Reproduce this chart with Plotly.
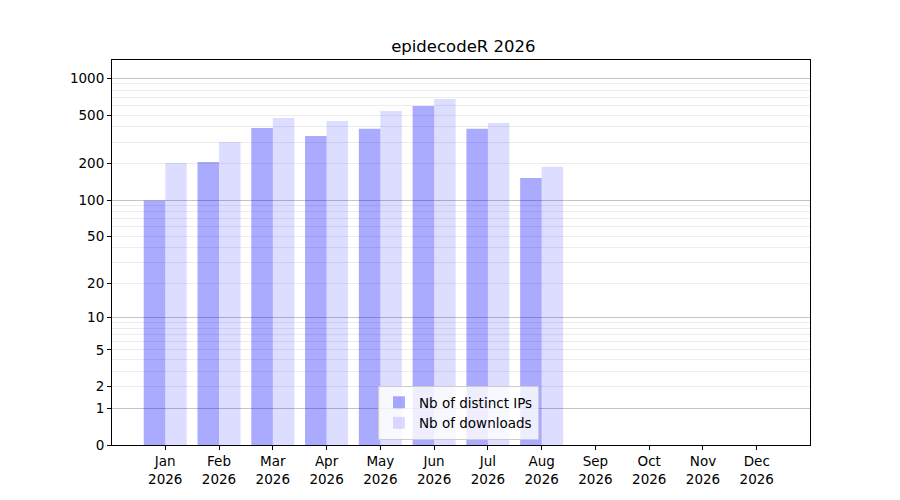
import numpy as np
import plotly.graph_objects as go

months = ["Jan", "Feb", "Mar", "Apr", "May", "Jun", "Jul", "Aug", "Sep", "Oct", "Nov", "Dec"]
year = "2026"
distinct_ips = [99, 206, 392, 337, 385, 594, 385, 152, 0, 0, 0, 0]
downloads = [202, 301, 473, 447, 540, 678, 431, 188, 0, 0, 0, 0]
y_labels = [0, 1, 2, 5, 10, 20, 50, 100, 200, 500, 1000]
decades = [1, 10, 100, 1000]
minor_vals = [m * d for d in (1, 10, 100) for m in range(2, 10)]


def tr(v):
    # log10(1 + x) scale, like the original symlog-ish axis
    return np.log10(1 + np.asarray(v, dtype=float))


x = np.arange(len(months))
font = dict(family="DejaVu Sans", size=13.5, color="black")

fig = go.Figure()
fig.add_trace(go.Bar(x=x, y=tr(distinct_ips), name="Nb of distinct IPs",
                     marker=dict(color="rgba(0,0,255,0.333)", line_width=0)))
fig.add_trace(go.Bar(x=x, y=tr(downloads), name="Nb of downloads",
                     marker=dict(color="rgba(0,0,255,0.133)", line_width=0)))
# empty trace to carry the decade grid axis
fig.add_trace(go.Scatter(x=[], y=[], yaxis="y2", showlegend=False, hoverinfo="skip"))

# page has an 8px body margin, so margins are shifted to land the plot where the original is
yrange = [0, 3.15]
fig.update_layout(
    width=900, height=500,
    margin=dict(l=104, r=98, t=52, b=63),
    paper_bgcolor="white", plot_bgcolor="rgba(0,0,0,0)",
    font=font,
    barmode="group", bargap=0.2, bargroupgap=0,
    title=dict(text="epidecodeR " + year, x=(112 + 810) / 2 / 900 - 8 / 900, xref="paper",
               xanchor="center", y=1 - 38 / 500, yanchor="middle", font=dict(size=16.5)),
    xaxis=dict(range=[-0.99, 11.99], tickvals=x,
               ticktext=[m + "<br>" + year for m in months],
               ticks="outside", ticklen=4, tickcolor="black",
               showgrid=False, zeroline=False,
               showline=True, linecolor="black", linewidth=1, mirror=True),
    yaxis=dict(range=yrange, tickvals=tr(y_labels), ticktext=[str(v) for v in y_labels],
               ticks="outside", ticklen=4, tickcolor="black",
               showgrid=True, gridcolor="#ececec", gridwidth=1, zeroline=False,
               showline=True, linecolor="black", linewidth=1, mirror=True,
               minor=dict(tickvals=tr(minor_vals), showgrid=True,
                          gridcolor="#ececec", gridwidth=1, ticks="")),
    yaxis2=dict(range=yrange, overlaying="y", tickvals=tr(decades),
                showticklabels=False, ticks="", showline=False, zeroline=False,
                showgrid=True, gridcolor="#c4c4c4", gridwidth=1),
    legend=dict(x=(378 - 112) / 698, y=(445 - 440) / 385, xanchor="left", yanchor="bottom",
                bgcolor="rgba(255,255,255,0.8)", bordercolor="#cccccc", borderwidth=1,
                font=dict(size=13.5), tracegroupgap=2),
)

fig.write_html("out.html")
